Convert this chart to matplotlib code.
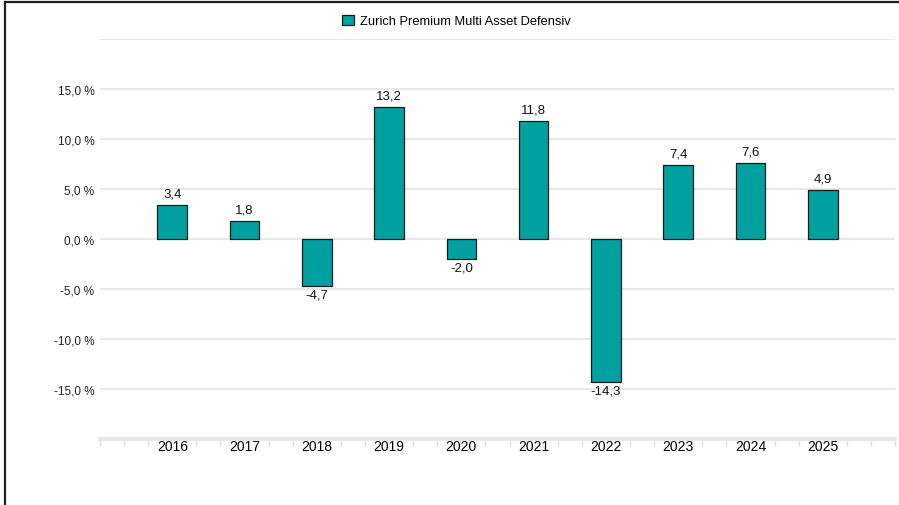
import matplotlib.pyplot as plt
from matplotlib.patches import Patch
from matplotlib.lines import Line2D

plt.rcParams['font.family'] = ['Liberation Sans', 'DejaVu Sans']

jahre = ["2016", "2017", "2018", "2019", "2020", "2021", "2022", "2023", "2024", "2025"]
rendite = [3.4, 1.8, -4.7, 13.2, -2.0, 11.8, -14.3, 7.4, 7.6, 4.9]
fondsname = "Zurich Premium Multi Asset Defensiv"
y_ticks = [-20, -15, -10, -5, 0, 5, 10, 15, 20]

farbe = "#009FA0"

fig = plt.figure(figsize=(8.99, 5.06), dpi=100)
ax = fig.add_axes([100/899, 1 - 440/506, 795/899, 400/506])

x = list(range(len(jahre)))
balken = ax.bar(x, rendite, width=0.41, color=farbe, edgecolor="#1a1a1a", linewidth=0.9, zorder=3)

# Werte an die Balken schreiben (Komma als Dezimalzeichen)
for b, v in zip(balken, rendite):
    txt = f"{v:.1f}".replace(".", ",")
    if v >= 0:
        ax.annotate(txt, (b.get_x() + b.get_width()/2, v), xytext=(0, 4),
                    textcoords="offset points", ha="center", va="bottom", fontsize=9.5, color="#111111")
    else:
        ax.annotate(txt, (b.get_x() + b.get_width()/2, v), xytext=(0, -2),
                    textcoords="offset points", ha="center", va="top", fontsize=9.5, color="#111111")

ax.set_xlim(-1, 10)
ax.set_ylim(-20, 20)

ax.set_yticks(y_ticks)
ax.set_yticklabels(["" if abs(t) == 20 else f"{t:.1f} %".replace(".", ",") for t in y_ticks], fontsize=8.5, color="#222222")
ax.tick_params(axis="y", length=0, pad=4)
ax.grid(axis="y", color="#e6e6e6", linewidth=1.3, zorder=0)

ax.set_xticks(x)
ax.set_xticklabels(jahre, fontsize=8.5, color="#222222")
ax.tick_params(axis="x", length=0, pad=0)

# kleine Striche an der x-Achse
minor = [-1 + k/3 for k in range(34) if abs((-1 + k/3) - round(-1 + k/3)) > 0.01 or round(-1 + k/3) in (-1, 10)]
ax.set_xticks(minor, minor=True)
ax.tick_params(axis="x", which="minor", length=5, width=1, color="#e0e0e0")

for s in ["top", "right", "left"]:
    ax.spines[s].set_visible(False)
ax.spines["bottom"].set_color("#e8e8e8")
ax.spines["bottom"].set_linewidth(3)
ax.spines["bottom"].set_position(("data", -20))

fig.legend(handles=[Patch(facecolor=farbe, edgecolor="#1a1a1a", linewidth=0.9, label=fondsname)],
           loc="center", bbox_to_anchor=(0.508, 1 - 22/506), frameon=False, fontsize=9.3,
           handlelength=0.9, handleheight=0.9, handletextpad=0.5)

# Rahmen links und oben
fig.add_artist(Line2D([5/899, 5/899], [0, 1 - 3/506], color="#222222", linewidth=1.6))
fig.add_artist(Line2D([5/899, 1], [1 - 3/506, 1 - 3/506], color="#222222", linewidth=1.6))

plt.savefig("out.png", dpi=100)
